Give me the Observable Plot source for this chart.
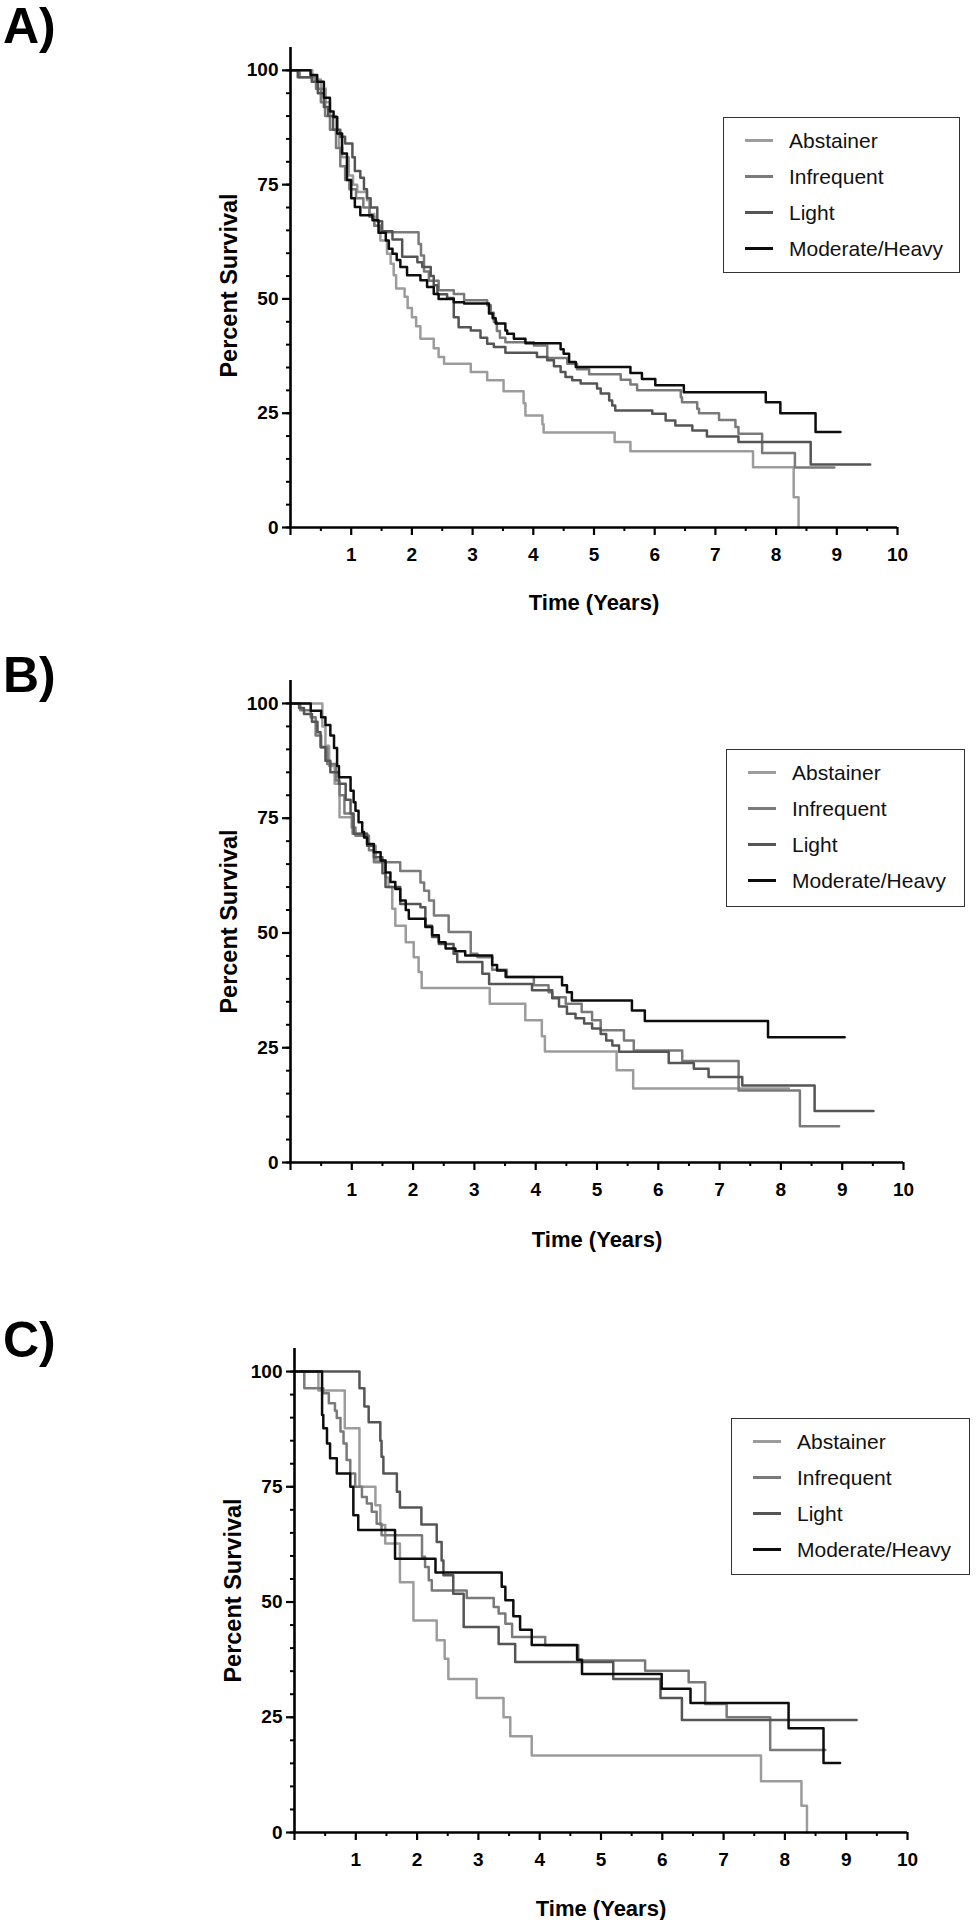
<!DOCTYPE html>
<html><head><meta charset="utf-8">
<script src="https://cdn.jsdelivr.net/npm/d3@7"></script>
<script src="https://cdn.jsdelivr.net/npm/@observablehq/plot@0.6"></script>
<style>
body{margin:0;background:#fff;}
#root{position:relative;width:976px;height:1920px;font-family:"Liberation Sans",Arial,Helvetica,sans-serif;background:#fff;}
.panel{position:absolute;left:0;width:976px;height:640px;}
.plabel{position:absolute;left:3px;font-weight:bold;font-size:50px;line-height:50px;color:#000;}
.legend{position:absolute;border:1.5px solid #333;box-sizing:border-box;background:#fff;}
.legend .sw{position:absolute;left:21px;height:3px;width:28px;}
.legend .lt{position:absolute;left:65px;font-size:21px;line-height:21px;color:#111;white-space:nowrap;}
</style></head><body><div id="root"></div><script>
// ---- categories / ticks ----
const seriesNames = ["Abstainer", "Infrequent", "Light", "Moderate/Heavy"];
const xTicks = [0,1,2,3,4,5,6,7,8,9,10];
const yTicks = [0,25,50,75,100];
const panelLabels = ["A)", "B)", "C)"];

// ---- Panel A: [time (years), percent survival] step points ----
const A_abstainer = [[0,100],[0.36,98],[0.50,96],[0.58,93],[0.65,90],[0.75,86],[0.80,83],[0.85,81],[0.96,77],[1.03,75],[1.10,73.4],[1.26,71.6],[1.30,68.6],[1.38,66],[1.48,62.8],[1.59,59.9],[1.65,57.7],[1.70,55.2],[1.74,52.3],[1.88,50.5],[1.93,48],[2.00,46],[2.07,44],[2.14,41.3],[2.36,39.2],[2.44,37.3],[2.53,35.8],[2.97,34.0],[3.24,32.2],[3.51,29.8],[3.84,27.2],[3.87,24.5],[4.15,22.6],[4.17,20.8],[5.34,18.7],[5.60,16.7],[7.62,13.2],[8.29,6.6],[8.37,0]];
const A_infrequent = [[0,100],[0.15,98.5],[0.42,96],[0.50,93],[0.57,90],[0.65,87],[0.75,83],[0.82,79],[0.90,76],[0.97,74],[1.08,72],[1.20,70],[1.30,68],[1.38,66],[1.48,64.6],[2.11,62],[2.15,59.5],[2.20,56],[2.28,54],[2.44,51.9],[2.69,51.1],[2.86,49.7],[3.24,48.6],[3.30,47],[3.35,45],[3.40,43],[3.45,41.5],[3.54,40.5],[4.01,39.8],[4.23,37.1],[4.56,35.8],[4.72,34.6],[4.92,33.5],[5.44,32.3],[5.60,31.3],[5.71,30.0],[6.43,28.5],[6.45,27.4],[6.70,26],[6.73,25],[7.06,23.5],[7.33,22],[7.38,20.5],[7.77,16.3],[8.31,13.1]];
const A_light = [[0,100],[0.12,98.5],[0.35,97.5],[0.45,95],[0.55,92],[0.62,90],[0.70,87],[0.82,85.5],[0.90,84],[1.02,81],[1.06,78],[1.15,76.5],[1.21,74],[1.26,72],[1.32,70],[1.43,67],[1.51,64.8],[1.68,63],[1.84,59.2],[2.09,58],[2.17,57],[2.31,55],[2.36,53],[2.42,51],[2.58,50.2],[2.69,46],[2.77,43.8],[2.97,43.1],[3.13,41.5],[3.24,40.2],[3.35,39.5],[3.54,38.2],[4.06,37.3],[4.23,36.6],[4.34,35.3],[4.45,34.0],[4.53,32.9],[4.64,32.2],[4.78,31.5],[5.05,30.4],[5.11,29.3],[5.25,27.8],[5.30,26.7],[5.35,25.6],[5.96,24.9],[6.18,23.4],[6.34,22.3],[6.62,21.2],[6.86,19.9],[7.38,18.7],[8.57,13.8]];
const A_moderate = [[0,100],[0.33,99],[0.44,97.5],[0.55,94],[0.65,91],[0.71,89.8],[0.77,86.2],[0.85,81.8],[0.93,76],[1.00,72],[1.06,70.1],[1.15,68.3],[1.35,67.2],[1.45,64.5],[1.57,62.8],[1.62,61],[1.68,59.9],[1.75,58.5],[1.81,57],[1.92,55.2],[2.14,54.1],[2.25,52.6],[2.36,51.1],[2.44,50.0],[2.69,49.3],[2.86,49.0],[3.27,46.8],[3.33,45.8],[3.38,44.6],[3.54,43.1],[3.57,42.4],[3.68,41.3],[3.87,40.3],[4.45,39],[4.50,38],[4.59,36.2],[4.70,35.1],[5.60,33.8],[5.79,32.5],[6.01,31.1],[6.48,29.6],[7.83,27.4],[8.07,25.0],[8.65,20.9]];
const A_end = [8.37, 8.96, 9.55, 9.06];

// ---- Panel B ----
const B_abstainer = [[0,100],[0.52,95],[0.57,90.8],[0.63,86.4],[0.72,82.5],[0.80,75.2],[1.01,71.6],[1.25,69],[1.39,65.8],[1.55,62.1],[1.60,60],[1.66,55.3],[1.71,51.6],[1.88,48],[2.01,44.7],[2.09,41.5],[2.14,38.0],[3.25,34.6],[3.83,31.0],[4.10,27.5],[4.15,24.2],[5.32,20.1],[5.59,16.1]];
const B_infrequent = [[0,100],[0.16,98.5],[0.33,97],[0.41,93],[0.50,90.4],[0.60,86.8],[0.74,83.2],[0.80,80],[0.88,76],[1.00,73],[1.06,71.2],[1.28,68],[1.36,65.4],[1.79,63.5],[2.12,61],[2.18,59.2],[2.26,57.1],[2.34,53.8],[2.58,50.2],[2.94,45.5],[3.05,44.7],[3.29,42],[3.53,40.4],[3.97,38.6],[4.21,37.1],[4.27,36],[4.49,34.6],[4.75,32.8],[4.92,31],[5.06,28.8],[5.44,26.6],[5.60,24.4],[6.39,22.1],[7.31,15.7],[8.31,7.9]];
const B_light = [[0,100],[0.14,99],[0.22,97.7],[0.35,96],[0.44,93.7],[0.49,90.5],[0.57,87.5],[0.65,85],[0.79,82.5],[0.90,79],[0.98,76],[1.03,71.6],[1.25,69],[1.36,66.5],[1.50,63],[1.55,60],[1.79,56.3],[2.12,55.6],[2.20,51.6],[2.31,49.1],[2.42,47.6],[2.66,45.5],[2.72,43.7],[3.13,41.1],[3.24,38.9],[3.94,37.5],[4.27,35.8],[4.38,34],[4.51,32.4],[4.65,31.4],[4.79,30.3],[4.92,29.2],[5.06,28],[5.15,26.6],[5.25,25.5],[5.36,24.1],[6.17,21.7],[6.58,20.4],[6.82,18.6],[7.37,16.8],[8.55,11.2]];
const B_moderate = [[0,100],[0.33,98.4],[0.50,97],[0.57,95.3],[0.65,93],[0.71,90.3],[0.76,86.4],[0.79,83.9],[0.98,81],[1.03,78.5],[1.06,76.6],[1.11,74.1],[1.17,72],[1.20,70.8],[1.25,69.4],[1.36,67.6],[1.47,65.8],[1.55,63.2],[1.63,61.1],[1.71,59.6],[1.79,57.1],[1.88,55],[1.93,53.1],[2.20,51.3],[2.31,49.5],[2.42,48],[2.53,46.6],[2.69,46],[2.85,45.1],[3.29,43],[3.37,41.8],[3.51,40.4],[4.43,38.6],[4.51,37.1],[4.59,35.3],[5.57,33.1],[5.78,30.8],[7.79,27.3]];
const B_end = [8.13, 8.95, 9.51, 9.04];

// ---- Panel C ----
const C_abstainer = [[0,100],[0.39,95.9],[0.82,87.7],[1.06,75.0],[1.32,71.0],[1.40,66.7],[1.48,62.7],[1.72,54.3],[1.94,46.0],[2.32,41.7],[2.45,37.7],[2.51,33.3],[2.97,29.2],[3.41,25.0],[3.52,20.9],[3.87,16.7],[7.61,11.1],[8.27,5.8],[8.36,0]];
const C_infrequent = [[0,100],[0.16,96.4],[0.47,95.3],[0.56,93.1],[0.66,91.5],[0.69,89.9],[0.75,87],[0.80,84.4],[0.85,80.8],[0.91,77.9],[0.99,75],[1.10,72.8],[1.18,71.4],[1.26,69.6],[1.34,67],[1.42,64.5],[2.08,59.8],[2.13,57.6],[2.19,54.7],[2.24,52.5],[2.81,50.9],[3.25,48.9],[3.33,47.5],[3.44,45.3],[3.55,42.4],[4.09,40.6],[4.63,37.3],[5.72,35.1],[6.43,32.6],[6.70,27.9],[7.05,25.0],[7.76,17.9]];
const C_light = [[0,100],[1.06,96.4],[1.14,92.4],[1.21,89.0],[1.40,85],[1.42,81.5],[1.45,77.9],[1.67,73.9],[1.72,70.5],[2.07,66.8],[2.32,63],[2.40,59],[2.43,55.8],[2.59,51.8],[2.76,44.6],[3.33,40.9],[3.60,37.0],[5.20,33.3],[5.97,29.2],[6.32,24.4]];
const C_moderate = [[0,100],[0.45,90.6],[0.47,87.7],[0.53,84.4],[0.58,81.2],[0.69,77.9],[0.91,75],[0.96,68.8],[1.04,65.6],[1.64,59.4],[2.30,56.4],[3.38,53.3],[3.44,50.4],[3.57,46.9],[3.68,44],[3.87,40.7],[4.61,37.5],[4.69,34.4],[5.99,31.2],[6.46,28.1],[8.06,22.6],[8.63,15.1]];
const C_end = [8.36, 8.66, 9.17, 8.90];

// ---- styling ----
const seriesColors = ["#9c9c9c", "#7a7a7a", "#555555", "#0d0d0d"];
const panels = [
  {series: [A_abstainer, A_infrequent, A_light, A_moderate], ends: A_end, top: 0, ml: 290, mr: 79, mt: 47, mb: 113, timeDy: 75, pdx: -61, pdy: -2, labelTop: 1, legend: {left: 723, top: 117, w: 237, h: 156}},
  {series: [B_abstainer, B_infrequent, B_light, B_moderate], ends: B_end, top: 640, ml: 290, mr: 73, mt: 40, mb: 118, timeDy: 77, pdx: -61, pdy: 0, labelTop: 10, legend: {left: 726, top: 109, w: 239, h: 158}},
  {series: [C_abstainer, C_infrequent, C_light, C_moderate], ends: C_end, top: 1280, ml: 294, mr: 69, mt: 68, mb: 88, timeDy: 76, pdx: -61, pdy: 0, labelTop: 35, legend: {left: 731, top: 138, w: 239, h: 157}}
];

function stepData(points, end) {
  const rows = points.map(([t, s]) => ({t, s}));
  rows.push({t: end, s: points[points.length - 1][1]});
  return rows;
}

const root = document.getElementById("root");
panels.forEach((p, pi) => {
  const div = document.createElement("div");
  div.className = "panel";
  div.style.top = p.top + "px";
  root.appendChild(div);

  const lines = p.series.map((pts, i) =>
    Plot.line(stepData(pts, p.ends[i]), {x: "t", y: "s", curve: "step-after", stroke: seriesColors[i], strokeWidth: 2.5})
  );

  const chart = Plot.plot({
    width: 976, height: 640,
    marginLeft: p.ml, marginRight: p.mr, marginTop: p.mt, marginBottom: p.mb,
    style: {fontFamily: "'Liberation Sans', Arial, sans-serif", fontSize: "19px", fontWeight: "bold", color: "#000", background: "#fff", overflow: "visible"},
    x: {domain: [0, 10]},
    y: {domain: [0, 105]},
    marks: [
      Plot.axisY({ticks: d3.range(0, 101, 5), tickSize: 4, tickFormat: () => "", label: null, strokeWidth: 2}),
      Plot.axisY({ticks: yTicks, tickSize: 8, tickPadding: 4, label: null, fontSize: 19, fontWeight: "bold", strokeWidth: 2.2}),
      Plot.axisX({ticks: d3.range(0.5, 10, 1), tickSize: 4, tickFormat: () => "", label: null, strokeWidth: 2}),
      Plot.axisX({ticks: xTicks, tickSize: 8, tickPadding: 12, tickFormat: d => d === 0 ? "" : String(d), label: null, fontSize: 19, fontWeight: "bold", strokeWidth: 2.2}),
      ...lines,
      Plot.ruleX([0], {stroke: "#000", strokeWidth: 2.6}),
      Plot.ruleY([0], {stroke: "#000", strokeWidth: 2.6}),
      Plot.text(["Time (Years)"], {frameAnchor: "bottom", dy: p.timeDy, textAnchor: "middle", lineAnchor: "middle", fontSize: 22, fontWeight: "bold", fill: "#000"}),
      Plot.text(["Percent Survival"], {frameAnchor: "left", dx: p.pdx, dy: p.pdy, rotate: -90, textAnchor: "middle", lineAnchor: "middle", fontSize: 23.5, fontWeight: "bold", fill: "#000"})
    ]
  });
  chart.style.position = "absolute";
  chart.style.left = "0px";
  chart.style.top = "0px";
  div.appendChild(chart);

  const lab = document.createElement("div");
  lab.className = "plabel";
  lab.style.top = p.labelTop + "px";
  lab.textContent = panelLabels[pi];
  div.appendChild(lab);

  const lg = document.createElement("div");
  lg.className = "legend";
  lg.style.left = p.legend.left + "px";
  lg.style.top = p.legend.top + "px";
  lg.style.width = p.legend.w + "px";
  lg.style.height = p.legend.h + "px";
  seriesNames.forEach((name, i) => {
    const cy = 24 + 36 * i;
    const sw = document.createElement("div");
    sw.className = "sw";
    sw.style.top = (cy - 1.5 - 1.5) + "px";
    sw.style.background = seriesColors[i];
    lg.appendChild(sw);
    const t = document.createElement("div");
    t.className = "lt";
    t.style.top = (cy - 10.5 - 1.5) + "px";
    t.textContent = name;
    lg.appendChild(t);
  });
  div.appendChild(lg);
});
</script></body></html>
